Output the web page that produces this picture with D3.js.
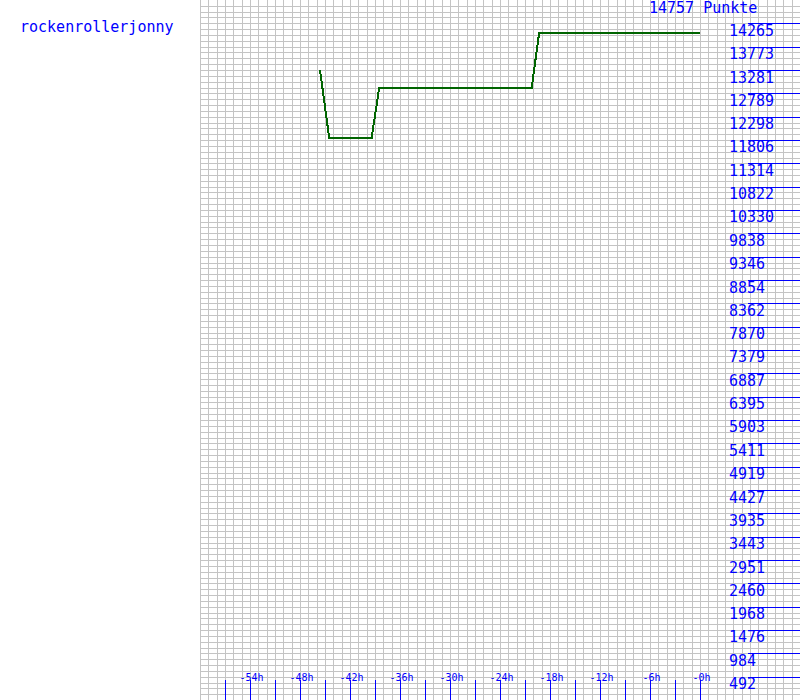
<!DOCTYPE html>
<html>
<head>
<meta charset="utf-8">
<script src="https://cdn.jsdelivr.net/npm/d3@7"></script>
<style>
  html, body { margin: 0; padding: 0; background: #fff; }
  svg { display: block; }
  text { font-family: "DejaVu Sans Mono", "Liberation Mono", monospace; fill: #0000ff; }
  .tick line { stroke: #0000ff; }
</style>
</head>
<body>
<svg id="chart" width="800" height="700"></svg>
<script>
// ---- data ----
const playerName = "rockenrollerjonny";
const maxPoints = 14757;
const pointsLabel = "14757 Punkte";
const hours  = [-45.6, -44.5, -39.4, -38.5, -20.2, -19.3, 0];
const points = [13281, 11854, 11854, 12902, 12902, 14068, 14068];
const yTickLabels = [14265, 13773, 13281, 12789, 12298, 11806, 11314, 10822, 10330, 9838,
  9346, 8854, 8362, 7870, 7379, 6887, 6395, 5903, 5411, 4919, 4427, 3935, 3443, 2951,
  2460, 1968, 1476, 984, 492];
const xTickValues = [-57, -54, -51, -48, -45, -42, -39, -36, -33, -30, -27, -24, -21, -18,
  -15, -12, -9, -6, -3, 0];
const xLabelHours = [-54, -48, -42, -36, -30, -24, -18, -12, -6, 0];

// ---- chart ----
const W = 800, H = 700;
const svg = d3.select("#chart");
const x = d3.scaleLinear().domain([-60, 12]).range([200, 800]);
const y = d3.scaleLinear().domain([0, maxPoints]).range([H, 0]);

// grid
const grid = svg.append("g").attr("shape-rendering", "crispEdges")
  .attr("stroke", "#c4c4c4").attr("stroke-width", 1);
grid.selectAll("line.v").data(d3.range(-60, 12, 1)).join("line")
  .attr("class", "v")
  .attr("x1", d => Math.round(x(d)) + 0.5).attr("x2", d => Math.round(x(d)) + 0.5)
  .attr("y1", 0).attr("y2", H);
grid.selectAll("line.h").data(d3.range(0, 120)).join("line")
  .attr("class", "h")
  .attr("y1", d => Math.round(y(d * maxPoints / 120)) + 0.5)
  .attr("y2", d => Math.round(y(d * maxPoints / 120)) + 0.5)
  .attr("x1", 200).attr("x2", W);

// y axis (right)
const yAxis = d3.axisLeft(y).tickValues(yTickLabels).tickSize(52).tickFormat(d3.format("d"));
const gy = svg.append("g").attr("transform", `translate(${W},0)`)
  .attr("color", "#0000ff").call(yAxis);
gy.select(".domain").remove();
gy.selectAll(".tick line").style("stroke", "#0000ff").attr("shape-rendering", "crispEdges");
gy.selectAll(".tick text")
  .attr("x", -71).attr("dy", "12px")
  .attr("text-anchor", "start")
  .style("font-size", "15px").style("fill", "#0000ff");

// x axis (bottom, ticks going up)
const xAxis = d3.axisTop(x).tickValues(xTickValues).tickSize(20)
  .tickFormat(d => xLabelHours.includes(d) ? (d === 0 ? "-0h" : d + "h") : "");
const gx = svg.append("g").attr("transform", `translate(0,${H})`)
  .attr("color", "#0000ff").call(xAxis);
gx.select(".domain").remove();
gx.selectAll(".tick line").style("stroke", "#0000ff").attr("shape-rendering", "crispEdges");
gx.selectAll(".tick text")
  .attr("y", -19).attr("dy", "0").attr("x", 1)
  .style("font-size", "10px").style("fill", "#0000ff");

// line
const line = d3.line().x((d, i) => x(hours[i])).y(d => y(d));
svg.append("path").datum(points)
  .attr("d", line)
  .attr("fill", "none")
  .attr("stroke", "#006400")
  .attr("stroke-width", 2)
  .attr("shape-rendering", "crispEdges");

// titles
svg.append("text").attr("x", 20).attr("y", 32).style("font-size", "15px").text(playerName);
svg.append("text").attr("x", 649).attr("y", 13).style("font-size", "15px").text(pointsLabel);
</script>
</body>
</html>
